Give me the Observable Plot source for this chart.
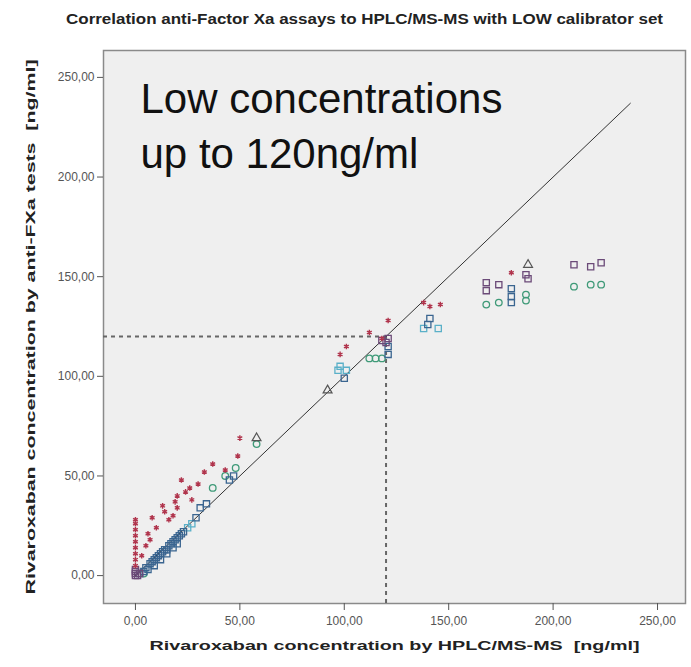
<!DOCTYPE html>
<html>
<head>
<meta charset="utf-8">
<script src="https://cdn.jsdelivr.net/npm/d3@7"></script>
<script src="https://cdn.jsdelivr.net/npm/@observablehq/plot@0.6"></script>
<style>
  html, body { margin: 0; padding: 0; background: #ffffff; }
  #chart svg { display: block; }
</style>
</head>
<body>
<div id="chart"></div>
<script>
const title = "Correlation anti-Factor Xa assays to HPLC/MS-MS with LOW calibrator set";
const xLabel = "Rivaroxaban concentration by HPLC/MS-MS  [ng/ml]";
const yLabel = "Rivaroxaban concentration by anti-FXa tests  [ng/ml]";
const annotationLines = ["Low concentrations", "up to 120ng/ml"];
const ticks = [0, 50, 100, 150, 200, 250];
const cutoff = 120;
const identityX = [0, 237];
const identityY = [0, 237];

// Series
const redX = [0,0,0,0,0,0,0,0,0, 3,5,6,7,8,10,13,14,16,18,19,20,20,22,24,26,27,30,33,37,43,49,50, 98,101,112,118,121, 138,141,146, 180];
const redY = [5,8,11,14,17,20,23,26,28, 10,15,21,18,29,24,35,32,28,30,37,34,40,48,42,44,38,46,52,56,53,60,69, 111,115,122,119,128, 137,135,136, 152];

const purpleX = [0,0,0,0,1,2, 118,120,121, 168,168,174,187,188, 210,218,223];
const purpleY = [0,1,2,3,0,1, 118,117,119, 147,143,146,151,149, 156,155,157];

const blueX = [2,4,5,6,7,8,9,10,11,12,13,14,15,16,17,18,19,20,21,22,23,20,18,15,12,9, 29,31,34,45,47, 100,121,121, 140,141, 180,180,180];
const blueY = [1,2,4,3,6,7,8,9,10,11,12,13,13,15,16,17,18,19,20,21,22,16,14,11,8,5, 29,34,36,48,50, 99,115,111, 126,129, 140,144,137];

const greenX = [4, 37,43,48,58, 112,115,118, 168,174,187,187, 210,218,223];
const greenY = [1, 44,50,54,66, 109,109,109, 136,137,141,138, 145,146,146];

const cyanX = [25,27, 97,98,101, 138,145];
const cyanY = [24,26, 103,105,103, 124,124];

const grayX = [58, 92, 188];
const grayY = [69, 93, 156];

const toRows = (xs, ys) => xs.map((x, i) => ({x, y: ys[i]}));
const fmt = d => d3.format(".2f")(d).replace(".", ",");
const font = "'Liberation Sans', Arial, sans-serif";

const plot = Plot.plot({
  width: 691,
  height: 667,
  marginLeft: 103,
  marginRight: 6,
  marginTop: 50,
  marginBottom: 64,
  style: {fontFamily: font, background: "#ffffff"},
  x: {domain: [-15.3, 263.4], label: null},
  y: {domain: [-14, 263.5], label: null},
  marks: [
    Plot.frame({fill: "#efefef", stroke: "#8a8a8a", strokeWidth: 1.5}),
    Plot.axisX({ticks, tickFormat: fmt, tickSize: 7, fontSize: 12, fill: "#555", stroke: "#555", label: null, tickPadding: 6}),
    Plot.axisY({ticks, tickFormat: fmt, tickSize: 6, fontSize: 12, fill: "#555", stroke: "#555", label: null, tickPadding: 3}),
    Plot.ruleY([cutoff], {x1: -15.3, x2: cutoff, stroke: "#666", strokeWidth: 2, strokeDasharray: "4,4"}),
    Plot.ruleX([cutoff], {y1: -14, y2: cutoff, stroke: "#666", strokeWidth: 2, strokeDasharray: "4,4"}),
    Plot.line(toRows(identityX, identityY), {x: "x", y: "y", stroke: "#333", strokeWidth: 1}),
    Plot.dot(toRows(cyanX, cyanY), {x: "x", y: "y", symbol: "square", r: 3.5, stroke: "#5ab0c8", strokeWidth: 1.3, fill: "none"}),
    Plot.dot(toRows(greenX, greenY), {x: "x", y: "y", symbol: "circle", r: 3.3, stroke: "#3f9a78", strokeWidth: 1.3, fill: "none"}),
    Plot.dot(toRows(blueX, blueY), {x: "x", y: "y", symbol: "square", r: 3.5, stroke: "#3a6590", strokeWidth: 1.3, fill: "none"}),
    Plot.dot(toRows(purpleX, purpleY), {x: "x", y: "y", symbol: "square", r: 3.5, stroke: "#6b4a78", strokeWidth: 1.3, fill: "none"}),
    Plot.dot(toRows(grayX, grayY), {x: "x", y: "y", symbol: "triangle", r: 3.3, stroke: "#555", strokeWidth: 1.2, fill: "none"}),
    Plot.dot(toRows(redX, redY), {x: "x", y: "y", symbol: "asterisk", r: 2.6, stroke: "#b0344c", strokeWidth: 1.4}),
    Plot.text([annotationLines[0]], {frameAnchor: "top-left", dx: 37, dy: 33, fontSize: 42, fill: "#111", textAnchor: "start", fontFamily: font}),
    Plot.text([annotationLines[1]], {frameAnchor: "top-left", dx: 37, dy: 88, fontSize: 42, fill: "#111", textAnchor: "start", fontFamily: font}),
    Plot.text([title], {frameAnchor: "top", dx: -30, dy: -36, fontSize: 14, fontWeight: "bold", fill: "#222"}),
    Plot.text([xLabel], {frameAnchor: "bottom", dy: 46, fontSize: 13, fontWeight: "bold", fill: "#222"}),
    Plot.text([yLabel], {frameAnchor: "left", dx: -73, rotate: -90, textAnchor: "middle", fontSize: 13, fontWeight: "bold", fill: "#222"})
  ]
});
document.getElementById("chart").appendChild(plot);
const fit = (label, len) => {
  d3.select(plot).selectAll("text").each(function() {
    if (this.textContent === label) {
      this.setAttribute("textLength", len);
      this.setAttribute("lengthAdjust", "spacingAndGlyphs");
    }
  });
};
fit(title, 597);
fit(xLabel, 490);
fit(yLabel, 535);
</script>
</body>
</html>
